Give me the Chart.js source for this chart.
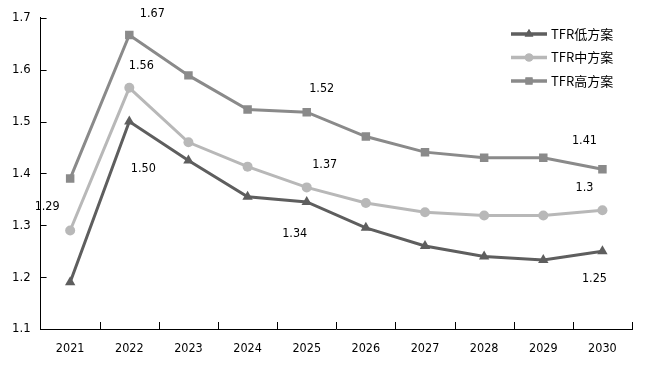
<!DOCTYPE html>
<html>
<head>
<meta charset="utf-8">
<script src="https://cdn.jsdelivr.net/npm/chart.js@4/dist/chart.umd.min.js"></script>
<style>
  html, body { margin: 0; padding: 0; background: #fff; }
  #wrap { width: 660px; height: 368px; }
</style>
</head>
<body>
<div id="wrap"><canvas id="tfrChart"></canvas></div>
<script>
const years = ['2021', '2022', '2023', '2024', '2025', '2026', '2027', '2028', '2029', '2030'];
const lowValues = [1.19, 1.50, 1.425, 1.355, 1.345, 1.295, 1.26, 1.24, 1.233, 1.25];
const midValues = [1.29, 1.565, 1.46, 1.413, 1.373, 1.343, 1.325, 1.319, 1.319, 1.329];
const highValues = [1.39, 1.667, 1.589, 1.523, 1.518, 1.471, 1.441, 1.43, 1.43, 1.408];
const lowLabels = [null, '1.50', null, null, '1.34', null, null, null, null, '1.25'];
const midLabels = ['1.29', '1.56', null, null, '1.37', null, null, null, null, '1.3'];
const highLabels = [null, '1.67', null, null, '1.52', null, null, null, null, '1.41'];
const yTicks = [1.1, 1.2, 1.3, 1.4, 1.5, 1.6, 1.7];

// pixel offsets of the value labels from their point: [dx, dy]
const labelOffsets = [
    { 1: [14, 47], 4: [-12, 32], 9: [-8, 28] },
    { 0: [-23, -24], 1: [12, -22], 4: [18, -23], 9: [-18, -22] },
    { 1: [23, -21], 4: [15, -23], 9: [-18, -29] }
];
const allLabels = [lowLabels, midLabels, highLabels];

const font = '"DejaVu Sans Condensed", "DejaVu Sans"';

const valueLabels = {
    id: 'valueLabels',
    afterDatasetsDraw(chart) {
        const ctx = chart.ctx;
        ctx.save();
        ctx.font = '12.5px ' + font;
        ctx.fillStyle = '#000';
        ctx.textAlign = 'center';
        ctx.textBaseline = 'middle';
        allLabels.forEach((texts, d) => {
            const meta = chart.getDatasetMeta(d);
            texts.forEach((t, i) => {
                if (!t) return;
                const p = meta.data[i];
                const off = labelOffsets[d][i] || [0, -15];
                ctx.fillText(t, p.x + off[0], p.y + off[1]);
            });
        });
        ctx.restore();
    }
};

// ticks drawn inside the plot, like the original
const innerTicks = {
    id: 'innerTicks',
    afterDraw(chart) {
        const ctx = chart.ctx;
        const area = chart.chartArea;
        const y = chart.scales.y;
        ctx.save();
        ctx.strokeStyle = '#000';
        ctx.lineWidth = 1;
        ctx.beginPath();
        y.ticks.forEach((t, i) => {
            const py = Math.round(y.getPixelForTick(i)) + 0.5;
            ctx.moveTo(area.left, py);
            ctx.lineTo(area.left + 6, py);
        });
        const w = (area.right - area.left) / years.length;
        for (let k = 1; k <= years.length; k++) {
            const px = Math.round(area.left + k * w) + 0.5;
            ctx.moveTo(px, area.bottom);
            ctx.lineTo(px, area.bottom - 7);
        }
        ctx.stroke();
        ctx.restore();
    }
};

const lineLegend = {
    id: 'lineLegend',
    afterDraw(chart) {
        const ctx = chart.ctx;
        const x0 = 511, x1 = 547, top = 34, gap = 23.5;
        ctx.save();
        chart.data.datasets.forEach((ds, i) => {
            const yy = top + i * gap;
            ctx.strokeStyle = ds.borderColor;
            ctx.lineWidth = 3.5;
            ctx.beginPath();
            ctx.moveTo(x0, yy);
            ctx.lineTo(x1, yy);
            ctx.stroke();
            ctx.fillStyle = ds.borderColor;
            Chart.helpers.drawPoint(ctx, {
                pointStyle: ds.pointStyle,
                radius: ds.pointRadius - 1,
                rotation: 0,
                borderWidth: 0
            }, (x0 + x1) / 2, yy);
            ctx.fill();
            ctx.fillStyle = '#000';
            ctx.font = '13px "Noto Sans CJK SC"';
            ctx.textAlign = 'left';
            ctx.textBaseline = 'middle';
            ctx.fillText(ds.label, x1 + 4, yy);
        });
        ctx.restore();
    }
};

new Chart(document.getElementById('tfrChart'), {
    type: 'line',
    data: {
        labels: years,
        datasets: [
            {
                label: 'TFR低方案',
                data: lowValues,
                borderColor: '#5e5e5e',
                backgroundColor: '#5e5e5e',
                borderWidth: 3,
                pointStyle: 'triangle',
                pointRadius: 6,
                pointBorderWidth: 0
            },
            {
                label: 'TFR中方案',
                data: midValues,
                borderColor: '#b8b8b8',
                backgroundColor: '#b8b8b8',
                borderWidth: 3,
                pointStyle: 'circle',
                pointRadius: 5,
                pointBorderWidth: 0
            },
            {
                label: 'TFR高方案',
                data: highValues,
                borderColor: '#8a8a8a',
                backgroundColor: '#8a8a8a',
                borderWidth: 3,
                pointStyle: 'rect',
                pointRadius: 6,
                pointBorderWidth: 0
            }
        ]
    },
    options: {
        responsive: true,
        maintainAspectRatio: false,
        animation: false,
        layout: { padding: { top: 15, right: 28, bottom: 0, left: 2 } },
        plugins: {
            legend: { display: false },
            tooltip: { enabled: false }
        },
        scales: {
            x: {
                offset: true,
                grid: { display: false, drawTicks: false },
                border: { color: '#000', width: 1 },
                ticks: {
                    color: '#000',
                    padding: 12,
                    maxRotation: 0,
                    font: { family: font, size: 12.5 }
                }
            },
            y: {
                min: 1.1,
                max: 1.7,
                afterBuildTicks: (scale) => {
                    scale.ticks = yTicks.map(v => ({ value: v }));
                },
                grid: { display: false, drawTicks: false },
                border: { color: '#000', width: 1 },
                ticks: {
                    color: '#000',
                    padding: 10,
                    font: { family: font, size: 13 },
                    callback: (v) => v.toFixed(1)
                }
            }
        }
    },
    plugins: [valueLabels, innerTicks, lineLegend]
});
</script>
</body>
</html>
